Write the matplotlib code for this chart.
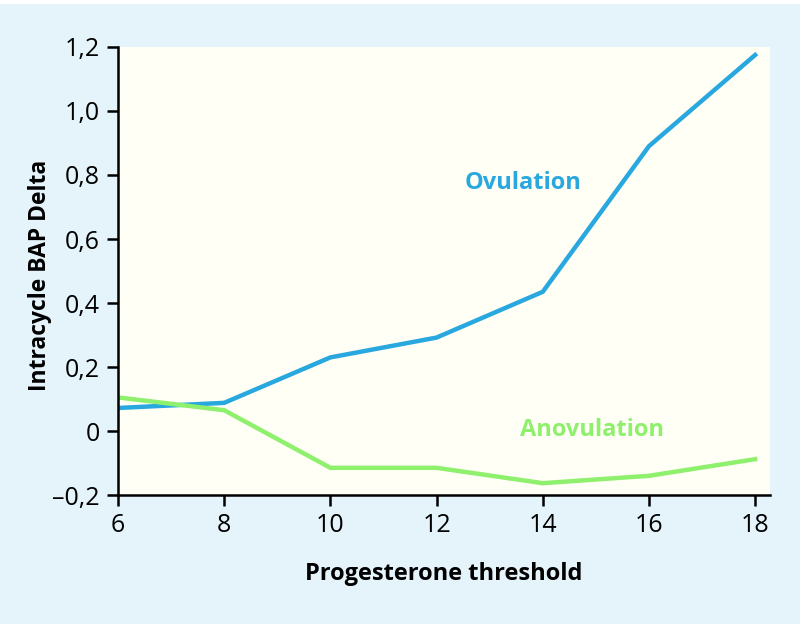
import matplotlib.pyplot as plt
from matplotlib.patches import Rectangle
from matplotlib.ticker import FuncFormatter

thresholds = [6, 8, 10, 12, 14, 16, 18]
ovulation = [0.072, 0.088, 0.230, 0.292, 0.435, 0.890, 1.175]
anovulation = [0.105, 0.065, -0.115, -0.115, -0.163, -0.140, -0.088]

blue = "#29a8e0"
green = "#8ef06c"

plt.rcParams["font.family"] = ["Open Sans", "DejaVu Sans"]

fig = plt.figure(figsize=(8, 6.24), dpi=100)
fig.patch.set_facecolor("white")
fig.patches.append(Rectangle((0, 0), 1, 0.994, transform=fig.transFigure,
                             facecolor="#e5f4fa", edgecolor="none", zorder=-10))

ax = fig.add_axes([0.1475, 0.2067, 0.815, 0.718])
ax.set_facecolor("#fffff5")

ax.plot(thresholds, ovulation, color=blue, lw=3.2, solid_joinstyle="miter")
ax.plot(thresholds, anovulation, color=green, lw=3.2, solid_joinstyle="miter")

ax.text(12.53, 0.755, "Ovulation", color=blue, fontsize=17, fontweight="bold")
ax.text(13.57, -0.015, "Anovulation", color=green, fontsize=17, fontweight="bold")

ax.set_xlim(6, 18.28)
ax.set_ylim(-0.2, 1.2)
ax.set_xticks(thresholds)
ax.set_yticks([-0.2, 0, 0.2, 0.4, 0.6, 0.8, 1.0, 1.2])


def fmt(v, pos):
    if abs(v) < 1e-9:
        return "0"
    s = f"{abs(v):.1f}".replace(".", ",")
    return ("\u2013" + s) if v < 0 else s


ax.yaxis.set_major_formatter(FuncFormatter(fmt))

for side in ["top", "right"]:
    ax.spines[side].set_visible(False)
for side in ["left", "bottom"]:
    ax.spines[side].set_linewidth(1.8)
ax.tick_params(axis="both", length=8, width=1.8, labelsize=18, pad=5)

ax.set_xlabel("Progesterone threshold", fontsize=17, fontweight="bold", labelpad=17)
ax.set_ylabel("Intracycle BAP Delta", fontsize=16.5, fontweight="bold",
              va="center")
ax.yaxis.set_label_coords(-0.12, 0.49)

fig.savefig("out.png", dpi=100)
